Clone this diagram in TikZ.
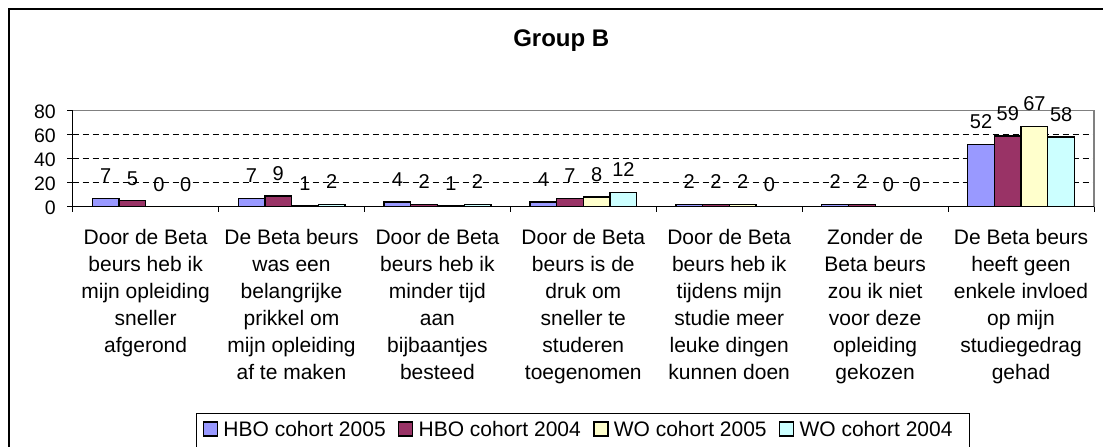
\documentclass[tikz,border=0pt]{standalone}
\usepackage{fontspec}
\setmainfont{Liberation Sans}
\usetikzlibrary{positioning}
\definecolor{bar0}{HTML}{9999FF}
\definecolor{bar1}{HTML}{993366}
\definecolor{bar2}{HTML}{FFFFCC}
\definecolor{bar3}{HTML}{CCFFFF}
\definecolor{plotgray}{HTML}{808080}
\tikzset{
	catlabel/.style={anchor=north, inner sep=0pt, align=center, font=\fontsize{21}{27}\selectfont},
	vallabel/.style={anchor=base, inner sep=0pt, font=\fontsize{20}{24}\selectfont},
	ylabel/.style={anchor=east, inner sep=0pt, font=\fontsize{19.5}{24}\selectfont},
	legsq/.style={draw=black, line width=1.5pt, minimum size=14pt, inner sep=0pt},
	legtxt/.style={inner sep=0pt, font=\fontsize{21}{25}\selectfont},
	barbox/.style={draw=black, line width=1.3pt},
	gridline/.style={line width=1pt, dash pattern=on 6pt off 4pt},
}

\begin{document}
\begin{tikzpicture}[x=1pt,y=-1pt]
	\clip (0,0) rectangle (1103,447);
	\fill[white] (0,0) rectangle (1103,447);
	% chart frame, cut off at right and bottom
	\draw [line width=1.5pt] (9,470) -- (9,9) -- (1120,9);
	\node[font=\bfseries\fontsize{24}{28}\selectfont, anchor=base, inner sep=0pt] (title) at (561.3,46.7) {Group B};
	% plot area
	\foreach \g in {20,40,60}
		\draw [gridline] (72.7,{206.7-\g*1.2}) -- (1094,{206.7-\g*1.2});
	\draw [plotgray, line width=1.3pt] (72.7,110.7) -- (1094,110.7) -- (1094,206.7);
	\foreach \g in {0,20,...,80} {
		\draw [line width=1pt] (67,{206.7-\g*1.2}) -- (72.7,{206.7-\g*1.2});
		\node[ylabel] (y\g) at (56,{208.2-\g*1.2}) {\g};
	}
	\foreach \c in {0,...,7}
		\draw [line width=1pt] ({72.7+\c*145.9},206.7) -- ++(0,5.5);
	% bars
	\foreach \vals [count=\c from 0] in {{7,5,0,0},{7,9,1,2},{4,2,1,2},{4,7,8,12},{2,2,2,0},{2,2,0,0},{52,59,67,58}} {
		\foreach \v [count=\j from 0] in \vals {
			\pgfmathsetmacro\xl{72.7+\c*145.9+19.6+\j*26.7}
			\pgfmathsetmacro\yt{206.7-\v*1.2}
			\filldraw [barbox, fill=bar\j] (\xl,206.7) rectangle ({\xl+26.7},\yt);
			\node[vallabel] (v\c\j) at ({\xl+13.35},{\yt-15.5}) {\v};
		}
	}
	\draw [line width=1.3pt] (72.7,110.7) -- (72.7,206.7) -- (1094,206.7);
	% category texts
	\node[catlabel] (cat0) at (145.6,229.5) {Door de Beta\\beurs heb ik\\mijn opleiding\\sneller\\afgerond};
	\node[catlabel] (cat1) at (291.5,229.5) {De Beta beurs\\was een\\belangrijke\\prikkel om\\mijn opleiding\\af te maken};
	\node[catlabel] (cat2) at (437.4,229.5) {Door de Beta\\beurs heb ik\\minder tijd\\aan\\bijbaantjes\\besteed};
	\node[catlabel] (cat3) at (583.3,229.5) {Door de Beta\\beurs is de\\druk om\\sneller te\\studeren\\toegenomen};
	\node[catlabel] (cat4) at (729.2,229.5) {Door de Beta\\beurs heb ik\\tijdens mijn\\studie meer\\leuke dingen\\kunnen doen};
	\node[catlabel] (cat5) at (875.1,229.5) {Zonder de\\Beta beurs\\zou ik niet\\voor deze\\opleiding\\gekozen};
	\node[catlabel] (cat6) at (1021.0,229.5) {De Beta beurs\\heeft geen\\enkele invloed\\op mijn\\studiegedrag\\gehad};
	% legend
	\draw [line width=1pt] (196.7,413.3) rectangle (969,460);
	\node[legsq, fill=bar0] (sq0) at (210.5,429) {};
	\node[legtxt, right=5pt of sq0] (lg0) {HBO cohort 2005};
	\node[legsq, fill=bar1, right=12pt of lg0] (sq1) {};
	\node[legtxt, right=5pt of sq1] (lg1) {HBO cohort 2004};
	\node[legsq, fill=bar2, right=12pt of lg1] (sq2) {};
	\node[legtxt, right=5pt of sq2] (lg2) {WO cohort 2005};
	\node[legsq, fill=bar3, right=12pt of lg2] (sq3) {};
	\node[legtxt, right=5pt of sq3] (lg3) {WO cohort 2004};
\end{tikzpicture}
\end{document}
